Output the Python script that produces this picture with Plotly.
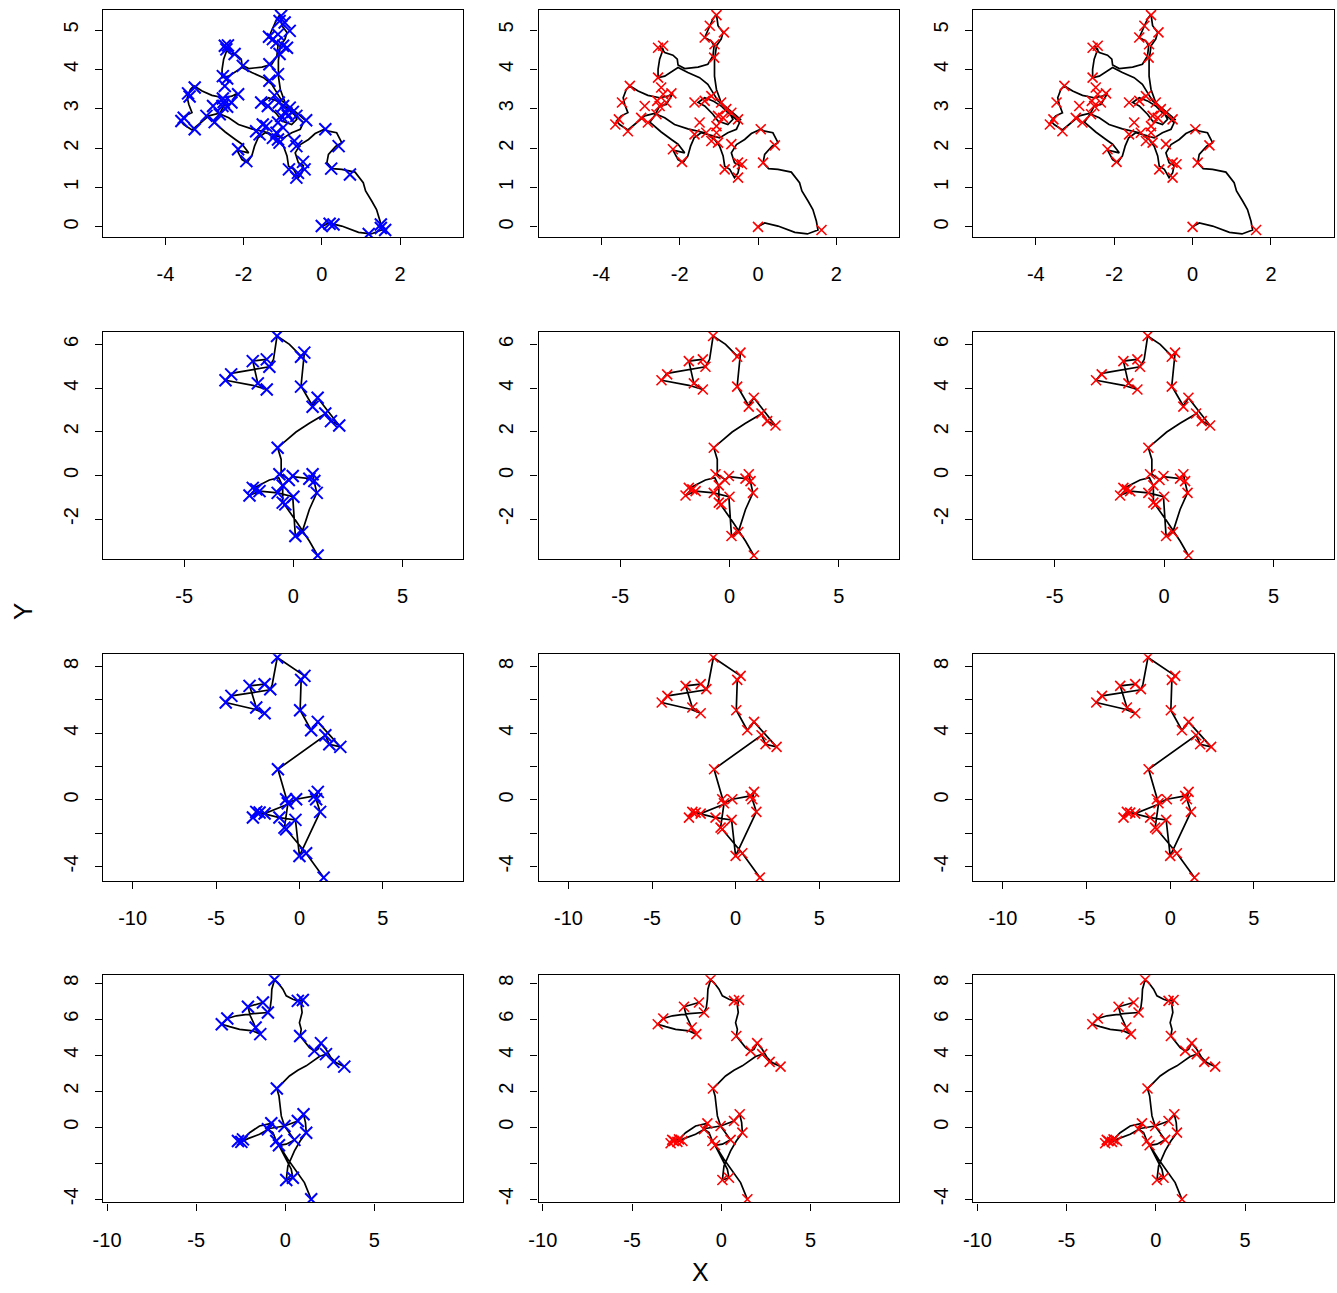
import plotly.graph_objects as go

# ---------------- Row 1 ----------------
R1_PATH = [(0.00,0.00),(0.17,0.10),(0.51,0.02),(0.94,-0.14),(1.26,-0.18),(1.53,-0.08),(1.49,0.14),(1.40,0.44),(1.28,0.65),(1.12,0.91),(1.06,1.12),(0.85,1.39),(0.51,1.46),(0.27,1.48),(0.13,1.63),(0.17,1.84),(0.36,2.05),(0.51,2.14),(0.38,2.39),(0.17,2.43),(0.07,2.48),(-0.17,2.37),(-0.34,2.22),(-0.55,2.09),(-0.68,1.88),(-0.60,1.63),(-0.47,1.56),(-0.51,1.37),(-0.60,1.25),(-0.72,1.46),(-0.85,1.54),(-0.89,1.80),(-0.98,2.05),(-1.11,2.22),(-1.36,2.39),(-1.79,2.49),(-2.13,2.60),(-2.38,2.77),(-2.64,2.88),(-2.89,2.82),(-3.15,2.60),(-3.32,2.46),(-3.53,2.60),(-3.61,2.69),(-3.49,2.82),(-3.32,2.90),(-3.40,3.11),(-3.44,3.28),(-3.36,3.49),(-3.27,3.58),(-3.06,3.45),(-2.81,3.34),(-2.51,3.28),(-2.30,3.32),(-2.17,3.39),(-2.34,3.11),(-2.51,3.07),(-2.64,2.82),(-2.76,2.66),(-2.47,2.41),(-2.21,2.22),(-2.04,2.10),(-1.87,1.88),(-2.17,1.95),(-2.04,1.71),(-1.91,1.63),(-1.79,1.80),
           (-1.72,2.05),(-1.63,2.26),(-1.45,2.39),(-1.15,2.31),(-0.98,2.26),(-0.77,2.39),(-0.55,2.48),(-0.47,2.65),(-0.60,2.77),(-0.77,2.90),(-0.94,3.07),(-1.15,3.20),(-1.36,3.28),(-1.53,3.16),(-1.36,3.07),(-1.15,2.86),(-1.02,2.69),(-0.77,2.60),(-0.64,2.73),(-0.77,2.99),(-0.94,3.16),(-1.06,3.49),(-1.11,3.83),(-1.11,4.22),(-1.06,4.60),(-0.94,4.77),(-0.89,4.94),(-1.02,5.11),(-1.06,5.40),(-1.15,5.28),(-1.23,5.11),(-1.36,4.81),(-1.19,4.72),(-1.12,4.60),(-1.15,4.34),(-1.28,4.13),(-1.53,4.06),(-1.87,4.02),(-2.04,4.11),(-2.06,4.26),(-2.17,4.36),(-2.38,4.43),(-2.51,4.60),(-2.42,4.51),(-2.51,4.26),(-2.55,4.00),(-2.55,3.79),(-2.38,3.83),(-2.04,4.05),(-1.79,3.92),(-1.49,3.79),(-1.28,3.62),(-1.15,3.41),(-1.02,3.20),(-0.85,3.07),(-0.68,2.94),(-0.55,2.82),(-0.43,2.71)]

R1_BLUE = [(0.00,0.02),(0.20,0.08),(0.30,0.06),(1.20,-0.18),(1.51,0.06),(1.62,-0.08),(1.51,-0.03),(0.72,1.33),(0.24,1.48),(0.43,2.05),(0.09,2.48),
           (-0.65,1.25),(-0.61,1.37),(-0.48,1.65),(-0.44,1.46),(-0.84,1.46),(-0.65,2.05),(-0.70,2.18),(-0.40,2.71),(-0.65,2.82),(-0.74,2.92),(-0.82,3.03),(-0.99,3.07),(-1.10,3.16),(-1.21,3.34),(-1.12,2.65),(-1.04,2.82),(-0.91,2.90),(-1.16,2.39),(-1.12,2.22),(-1.08,2.14),(-1.25,2.26),(-1.42,2.56),(-1.51,2.60),(-1.59,2.35),(-1.68,2.43),(-1.55,3.16),(-1.38,3.07),(-0.87,2.82),(-0.99,2.52),
           (-3.59,2.69),(-3.53,2.77),(-3.25,2.48),(-3.42,3.39),(-3.38,3.31),(-3.25,3.54),(-2.95,2.82),(-2.78,3.07),(-2.74,2.66),(-2.61,2.86),(-2.54,3.07),(-2.51,3.17),(-2.42,3.05),(-2.53,3.26),(-2.48,3.58),(-2.53,3.83),(-2.42,3.77),(-2.14,3.37),(-2.31,3.16),(-2.14,1.97),(-1.93,1.67),
           (-2.48,4.60),(-2.40,4.61),(-2.44,4.51),(-2.23,4.39),(-2.02,4.09),(-1.34,4.13),(-1.12,3.88),(-1.34,3.71),(-1.25,4.77),(-1.35,4.83),(-1.12,4.89),(-1.04,5.36),(-1.08,5.23),(-0.95,5.19),(-0.82,4.98),(-0.99,4.60),(-0.89,4.55),(-1.08,4.39),(-1.16,4.68)]

R1_RED = [(0.00,0.00),(1.62,-0.08),(0.13,1.63),(0.43,2.07),(0.07,2.48),
          (-0.51,1.25),(-0.85,1.46),(-0.51,1.63),(-0.41,1.59),(-0.68,2.10),(-1.02,2.14),(-1.19,2.18),(-1.06,2.39),(-1.32,2.39),(-1.49,2.65),(-1.62,2.35),(-0.51,2.73),(-0.68,2.90),(-0.81,2.99),(-0.94,3.16),(-1.19,3.32),(-1.36,3.20),(-1.62,3.16),(-1.02,2.82),(-0.89,2.77),(-1.06,2.56),
          (-3.64,2.60),(-3.55,2.73),(-3.32,2.43),(-3.47,3.16),(-3.27,3.58),(-2.89,3.07),(-2.98,2.77),(-2.81,2.65),(-2.59,2.86),(-2.51,3.07),(-2.57,3.20),(-2.42,3.37),(-2.21,3.39),(-2.55,3.79),(-2.47,3.54),(-2.17,1.97),(-1.94,1.65),(-2.34,3.16),
          (-2.55,4.55),(-2.42,4.60),(-1.12,4.30),(-1.11,4.64),(-1.36,4.81),(-1.23,5.11),(-0.87,4.94),(-1.06,5.38)]

# ---------------- Row 2 ----------------
R2_PATH = [(-1.25,5.32),(-1.86,5.24),(-1.63,4.22),(-1.22,3.94),(-1.86,4.13),(-3.11,4.36),(-2.85,4.68),(-1.10,4.98),(-0.91,5.32),(-0.75,6.39),(-0.18,6.01),(0.35,5.47),(0.50,5.60),(0.43,4.86),(0.35,4.10),(0.88,3.18),(1.11,3.56),(1.64,2.87),(2.10,2.29),(1.72,2.49),(1.49,2.84),(0.73,2.39),(0.12,1.99),(-0.72,1.27),(-0.56,0.73),(-0.56,0.05),(-0.18,-0.21),(-0.03,-0.06),(0.73,-0.15),(0.88,0.05),(0.96,-0.34),(1.07,-0.80),(0.73,-1.56),(0.40,-2.60),(0.09,-2.78),(-0.03,-0.98),(-0.72,-0.80),(-1.55,-0.72),(-2.01,-0.92),(-1.74,-0.64),(-1.86,-0.60),(-1.10,-0.21),(-0.67,-0.11),(-0.49,-0.49),(-0.49,-1.22),(-0.41,-1.33),(0.12,-2.09),(0.73,-3.01),(1.11,-3.67)]

R2_BLUE = [(-0.75,6.39),(0.35,5.44),(0.50,5.63),(0.35,4.07),(0.88,3.15),(1.11,3.56),(1.46,2.84),(1.72,2.49),(2.10,2.29),(-0.72,1.27),(-0.64,0.05),(-0.03,-0.03),(-0.21,-0.21),(-0.49,-0.46),(-0.72,-0.80),(-0.49,-1.25),(-0.37,-1.33),(0.00,-0.98),(0.73,-0.15),(0.88,0.05),(0.96,-0.26),(1.07,-0.80),(-1.86,-0.57),(-1.70,-0.64),(-2.01,-0.92),(-1.55,-0.72),(0.09,-2.78),(0.40,-2.60),(1.11,-3.67),(-1.86,5.24),(-1.22,5.32),(-1.10,4.98),(-2.85,4.63),(-3.11,4.36),(-1.63,4.22),(-1.22,3.94)]
R2_RED = R2_BLUE

# ---------------- Row 3 ----------------
R3_PATH = [(-2.09,6.94),(-2.99,6.84),(-2.59,5.54),(-2.09,5.20),(-2.69,5.44),(-4.42,5.84),(-4.08,6.24),(-1.75,6.60),(-1.63,6.94),(-1.33,8.54),(0.30,7.44),(0.10,7.20),(0.04,5.38),(0.70,4.18),(1.10,4.68),(2.45,3.18),(1.79,3.34),(1.55,3.88),(-1.29,1.84),(-0.80,0.04),(-0.70,-0.20),(-0.20,0.04),(0.90,0.24),(1.10,0.48),(1.00,0.04),(1.24,-0.72),(0.00,-3.36),(-0.24,-1.20),(-1.20,-1.06),(-2.39,-0.76),(-2.79,-1.06),(-2.59,-0.72),(-2.09,-0.82),(-0.70,-0.26),(-0.90,-1.66),(-0.80,-1.76),(0.40,-3.20),(1.45,-4.66)]

R3_BLUE = [(-1.33,8.54),(0.10,7.20),(0.30,7.44),(0.04,5.38),(0.70,4.18),(1.10,4.68),(1.55,3.88),(1.79,3.34),(2.45,3.18),(-1.29,1.84),(-0.80,0.04),(-0.20,0.04),(0.90,0.24),(1.10,0.48),(1.00,0.04),(1.24,-0.72),(-2.39,-0.76),(-2.59,-0.72),(-2.79,-1.06),(-2.09,-0.82),(-1.20,-1.06),(-0.90,-1.66),(-0.80,-1.76),(-0.24,-1.20),(-0.70,-0.20),(0.00,-3.36),(0.40,-3.20),(1.45,-4.66),(-2.99,6.84),(-2.09,6.94),(-1.75,6.64),(-4.08,6.24),(-4.42,5.84),(-2.59,5.54),(-2.09,5.20)]
R3_RED = R3_BLUE

# ---------------- Row 4 ----------------
R4_PATH = [(-1.25,6.93),(-1.81,6.78),(-2.09,6.69),(-1.96,6.19),(-1.81,5.81),(-1.66,5.54),(-1.53,5.26),(-1.40,5.17),(-1.81,5.35),(-2.56,5.44),(-3.12,5.59),(-3.56,5.72),(-3.25,6.04),(-2.74,6.19),(-1.81,6.31),(-0.97,6.37),(-0.84,6.65),(-0.78,7.11),(-0.75,7.67),(-0.60,8.19),(-0.41,8.04),(-0.13,7.67),(0.06,7.30),(0.43,7.11),(0.71,7.02),(0.99,7.07),(0.90,6.74),(0.95,6.37),(0.80,5.81),(0.90,5.44),(0.84,5.07),(1.08,4.80),(1.36,4.43),(1.64,4.24),(1.83,4.33),(2.01,4.67),(2.29,4.33),(2.57,3.87),(2.85,3.59),(3.32,3.37),(3.04,3.50),(2.71,3.63),(2.48,3.87),(2.29,4.06),(1.92,3.93),(1.55,3.69),(1.18,3.41),(0.71,3.17),(0.24,2.85),(-0.13,2.48),(-0.47,2.15),(-0.35,1.74),(-0.28,1.19),(-0.22,0.63),(-0.04,0.07),(0.24,-0.30),(0.52,-0.70),(0.06,-0.94),(-0.35,-1.00),(-0.50,-0.76),(-0.69,-0.30),(-0.97,-0.11),(-0.78,0.22),(-1.44,0.07),(-2.00,-0.30),(-2.37,-0.67),(-2.65,-0.76),(-2.46,-0.81),(-2.09,-0.63),(-1.44,-0.39),(-0.88,-0.07),(-0.04,0.07),(0.71,0.35),(1.03,0.72),(1.14,0.26),(1.18,-0.30),(0.84,-0.76),(0.52,-1.31),(0.15,-2.15),(0.06,-2.93),(0.43,-2.80),(0.34,-2.33),(0.06,-1.78),(-0.22,-1.31),(-0.35,-1.00),(0.15,-1.78),(0.62,-2.43),(1.08,-3.07),(1.46,-4.00)]

R4_BLUE = [(-0.60,8.19),(0.71,7.02),(0.99,7.07),(0.84,5.07),(1.64,4.24),(2.01,4.67),(2.29,4.06),(2.71,3.63),(3.32,3.37),(-0.47,2.15),(-0.78,0.22),(-0.97,-0.11),(-0.04,0.07),(0.71,0.35),(1.03,0.72),(1.18,-0.30),(0.52,-0.70),(-0.50,-0.76),(-0.35,-1.00),(-2.65,-0.76),(-2.46,-0.81),(-2.37,-0.67),(0.06,-2.93),(0.43,-2.80),(1.46,-4.00),(-2.09,6.69),(-1.25,6.93),(-0.97,6.37),(-3.25,6.04),(-3.56,5.72),(-1.66,5.54),(-1.40,5.17)]
R4_RED = R4_BLUE + [(-2.84,-0.89),(-2.18,-0.76),(-2.75,-0.70)]

PATHS = [R1_PATH, R2_PATH, R3_PATH, R4_PATH]
BLUE = [R1_BLUE, R2_BLUE, R3_BLUE, R4_BLUE]
RED = [R1_RED, R2_RED, R3_RED, R4_RED]

X_RANGES = [[-5.6, 3.6], [-8.73, 7.75], [-11.79, 9.78], [-10.24, 9.96]]
Y_RANGES = [[-0.26, 5.51], [-3.84, 6.57], [-4.88, 8.74], [-4.17, 8.44]]
X_TICKS = [[-4, -2, 0, 2], [-5, 0, 5], [-10, -5, 0, 5], [-10, -5, 0, 5]]
Y_TICKS = [[0, 1, 2, 3, 4, 5], [-2, 0, 2, 4, 6], [-4, -2, 0, 2, 4, 6, 8], [-4, -2, 0, 2, 4, 6, 8]]
Y_TEXT = [["0", "1", "2", "3", "4", "5"], ["-2", "0", "2", "4", "6"],
          ["-4", "", "0", "", "4", "", "8"], ["-4", "", "0", "2", "4", "6", "8"]]

W, H = 1337, 1293
# panel boxes (page pixels)
COLS = [(93.5, 456.0), (532.5, 895.8), (970.3, 1333.7)]
ROWS = [(9.0, 236.8), (332.1, 559.9), (655.2, 883.0), (977.3, 1205.1)]
FONT = "Liberation Sans, Arial, sans-serif"

fig = go.Figure()
layout = {}
for r in range(4):
    for c in range(3):
        n = r * 3 + c + 1
        xa = "x" if n == 1 else f"x{n}"
        ya = "y" if n == 1 else f"y{n}"
        px = [p[0] for p in PATHS[r]]
        py = [p[1] for p in PATHS[r]]
        fig.add_trace(go.Scatter(x=px, y=py, mode="lines", line=dict(color="black", width=1.7),
                                 xaxis=xa, yaxis=ya, showlegend=False, hoverinfo="skip"))
        if c == 0:
            pts, col, size, lw = BLUE[r], "#0000FF", 12, 2.0
        else:
            pts, col, size, lw = RED[r], "#FF0000", 10, 1.6
        fig.add_trace(go.Scatter(x=[p[0] for p in pts], y=[p[1] for p in pts], mode="markers",
                                 marker=dict(symbol="x-thin", size=size, color=col,
                                             line=dict(width=lw, color=col)),
                                 xaxis=xa, yaxis=ya, showlegend=False, hoverinfo="skip"))
        axcommon = dict(showline=True, mirror=True, linecolor="black", linewidth=1.3,
                        ticks="outside", ticklen=7, tickwidth=1.3, tickcolor="black",
                        showgrid=False, zeroline=False,
                        tickfont=dict(size=20, family=FONT, color="black"))
        x0, x1 = COLS[c]
        y0, y1 = ROWS[r]
        layout["xaxis" if n == 1 else f"xaxis{n}"] = dict(
            domain=[x0 / W, x1 / W], range=X_RANGES[r], anchor=ya, ticklabelstandoff=12,
            tickmode="array", tickvals=X_TICKS[r], ticktext=[str(v) for v in X_TICKS[r]], **axcommon)
        layout["yaxis" if n == 1 else f"yaxis{n}"] = dict(
            domain=[1 - y1 / H, 1 - y0 / H], range=Y_RANGES[r], anchor=xa, ticklabelstandoff=9,
            tickmode="array", tickvals=Y_TICKS[r], ticktext=Y_TEXT[r], tickangle=-90, **axcommon)

fig.update_layout(**layout)
fig.update_layout(
    width=W, height=H, margin=dict(l=0, r=0, t=0, b=0, pad=0), autosize=False,
    paper_bgcolor="white", plot_bgcolor="white",
    font=dict(family=FONT, color="black"),
    annotations=[
        dict(text="X", x=696 / W, y=3 / H, xref="paper", yref="paper",
             xanchor="center", yanchor="bottom", borderpad=0,
             showarrow=False, font=dict(size=25, family=FONT, color="black")),
        dict(text="Y", x=13 / W, y=1 - 612 / H, xref="paper", yref="paper",
             xanchor="center", yanchor="middle",
             showarrow=False, textangle=-90, font=dict(size=26, family=FONT, color="black")),
    ],
)
fig.write_html("out.html", config={"displayModeBar": False},
               post_script="document.body.style.margin='0';document.body.style.padding='0';"
                           "document.documentElement.style.overflow='hidden';document.body.style.overflow='hidden';")
